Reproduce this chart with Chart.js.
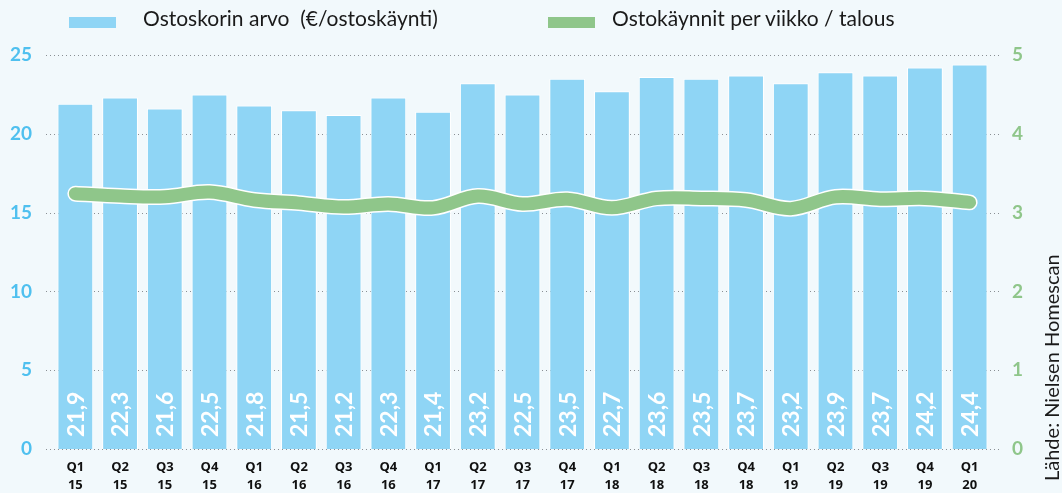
<!DOCTYPE html>
<html>
<head>
<meta charset="utf-8">
<script src="https://cdn.jsdelivr.net/npm/chart.js@4.4.1/dist/chart.umd.min.js"></script>
<style>
  html, body { margin: 0; padding: 0; background: #f2f9fc; }
  #wrap { position: relative; width: 1062px; height: 493px; }
  .legend { position: absolute; top: 5px; font-family: Lato, sans-serif; font-size: 21px; color: #1a1a1a; white-space: pre; }
  .legend span.box { position: absolute; top: 12px; width: 47px; height: 11px; }
</style>
</head>
<body>
<div id="wrap">
  <canvas id="chart" width="1062" height="493"></canvas>
  <div class="legend" id="leg1" style="left:69px"><span class="box" style="background:#8fd5f5;left:0"></span><span style="margin-left:74px" id="leg1t"></span></div>
  <div class="legend" id="leg2" style="left:548px"><span class="box" style="background:#8fc68a;left:0"></span><span style="margin-left:64px" id="leg2t"></span></div>
</div>
<script>
const quarters = ['Q1','Q2','Q3','Q4','Q1','Q2','Q3','Q4','Q1','Q2','Q3','Q4','Q1','Q2','Q3','Q4','Q1','Q2','Q3','Q4','Q1'];
const years = ['15','15','15','15','16','16','16','16','17','17','17','17','18','18','18','18','19','19','19','19','20'];
const basketValue = [21.9, 22.3, 21.6, 22.5, 21.8, 21.5, 21.2, 22.3, 21.4, 23.2, 22.5, 23.5, 22.7, 23.6, 23.5, 23.7, 23.2, 23.9, 23.7, 24.2, 24.4];
const visitsPerWeek = [3.24, 3.21, 3.20, 3.26, 3.16, 3.12, 3.07, 3.11, 3.06, 3.21, 3.11, 3.17, 3.06, 3.18, 3.18, 3.16, 3.05, 3.20, 3.17, 3.18, 3.13];
const leftTicks = [0, 5, 10, 15, 20, 25];
const rightTicks = [0, 1, 2, 3, 4, 5];
const seriesNames = ['Ostoskorin arvo  (€/ostoskäynti)', 'Ostokäynnit per viikko / talous'];
const sourceText = 'Lähde: Nielsen Homescan';

document.getElementById('leg1t').textContent = seriesNames[0];
document.getElementById('leg2t').textContent = seriesNames[1];

const labels = quarters.map((q, i) => [q, years[i]]);

const extras = {
  id: 'extras',
  beforeDatasetsDraw(chart) {
    const ctx = chart.ctx;
    const y = chart.scales.y;
    ctx.save();
    ctx.strokeStyle = '#8a8f94';
    ctx.lineWidth = 1;
    ctx.setLineDash([1, 3]);
    leftTicks.forEach(v => {
      const py = Math.round(y.getPixelForValue(v)) + 0.5;
      ctx.beginPath();
      ctx.moveTo(46, py);
      ctx.lineTo(1000, py);
      ctx.stroke();
    });
    ctx.restore();
  },
  afterDatasetsDraw(chart) {
    const ctx = chart.ctx;
    const meta = chart.getDatasetMeta(2);
    const base = chart.scales.y.getPixelForValue(0);
    ctx.save();
    ctx.fillStyle = '#ffffff';
    ctx.font = 'bold 23px Lato, sans-serif';
    ctx.textBaseline = 'middle';
    ctx.textAlign = 'left';
    meta.data.forEach((bar, i) => {
      ctx.save();
      ctx.translate(bar.x, base - 12);
      ctx.rotate(-Math.PI / 2);
      ctx.fillText(basketValue[i].toFixed(1).replace('.', ','), 0, 1);
      ctx.restore();
    });
    ctx.translate(1053, 481);
    ctx.rotate(-Math.PI / 2);
    ctx.fillStyle = '#1a1a1a';
    ctx.font = '20px Lato, sans-serif';
    ctx.fillText(sourceText, 0, 0);
    ctx.restore();
  }
};

new Chart(document.getElementById('chart'), {
  type: 'bar',
  data: {
    labels: labels,
    datasets: [
      {
        type: 'line',
        label: seriesNames[1],
        data: visitsPerWeek,
        yAxisID: 'y1',
        borderColor: '#8fc68a',
        borderWidth: 13,
        borderCapStyle: 'round',
        borderJoinStyle: 'round',
        pointRadius: 0,
        tension: 0.35,
        order: 1
      },
      {
        type: 'line',
        label: 'outline',
        data: visitsPerWeek,
        yAxisID: 'y1',
        borderColor: '#ffffff',
        borderWidth: 16,
        borderCapStyle: 'round',
        borderJoinStyle: 'round',
        pointRadius: 0,
        tension: 0.35,
        order: 2
      },
      {
        label: seriesNames[0],
        data: basketValue,
        yAxisID: 'y',
        backgroundColor: '#8fd5f5',
        borderColor: '#ffffff',
        borderWidth: 1,
        barPercentage: 0.8,
        categoryPercentage: 1,
        order: 3
      }
    ]
  },
  options: {
    responsive: false,
    animation: false,
    layout: { padding: { top: 55, bottom: 0, left: 0, right: 0 } },
    plugins: {
      legend: { display: false },
      tooltip: { enabled: false }
    },
    scales: {
      x: {
        afterFit(scale) { scale.height = 44; },
        grid: { display: false },
        border: { display: false },
        ticks: {
          color: '#111111',
          font: { family: '"Open Sans", sans-serif', size: 13, weight: 'bold', lineHeight: 1.35 },
          padding: 2,
          maxRotation: 0,
          autoSkip: false
        }
      },
      y: {
        position: 'left',
        min: 0,
        max: 25,
        afterFit(scale) { scale.width = 53; },
        afterBuildTicks(scale) { scale.ticks = leftTicks.map(v => ({ value: v })); },
        grid: { display: false, drawTicks: false },
        border: { display: false },
        ticks: {
          color: '#4fc0ef',
          font: { family: 'Lato, sans-serif', size: 19, weight: 'bold' },
          padding: 21
        }
      },
      y1: {
        position: 'right',
        min: 0,
        max: 5,
        afterFit(scale) { scale.width = 70; },
        afterBuildTicks(scale) { scale.ticks = rightTicks.map(v => ({ value: v })); },
        grid: { display: false, drawTicks: false },
        border: { display: false },
        ticks: {
          color: '#8fc68a',
          font: { family: 'Lato, sans-serif', size: 19, weight: 'bold' },
          padding: 20
        }
      }
    }
  },
  plugins: [extras]
});
</script>
</body>
</html>
